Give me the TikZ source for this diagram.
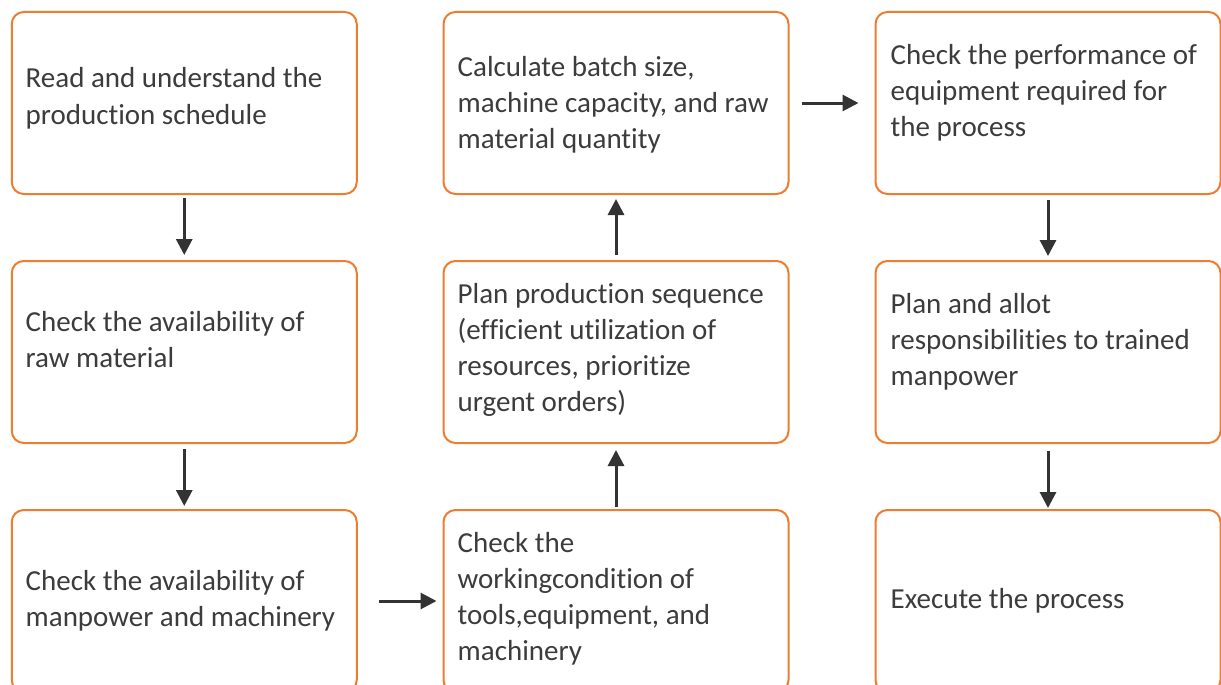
\documentclass[tikz,border=0pt]{standalone}
\usepackage{fontspec}
\setmainfont{Carlito}[Ligatures=NoCommon]
\usetikzlibrary{arrows.meta}
\definecolor{boxorange}{HTML}{ED7D31}
\definecolor{txtgray}{HTML}{3C3C3C}
\definecolor{arrgray}{HTML}{333333}
\begin{document}
\begin{tikzpicture}[x=1pt,y=-1pt,
  stepbox/.style={draw=boxorange, line width=2pt, rounded corners=12pt, minimum width=345pt, minimum height=182pt, inner sep=0pt, fill=white},
  steptext/.style={anchor=base west, inner sep=0pt, align=left, text=txtgray, font=\fontsize{29}{36}\selectfont},
  arr/.style={draw=arrgray, line width=3pt, -{Triangle[length=16pt,width=16pt]}}]
\useasboundingbox (0,0) rectangle (1221,685);
% boxes
\node[stepbox] (A1) at (184.25,103) {};
\node[stepbox] (A2) at (184.25,352) {};
\node[stepbox] (A3) at (184.25,601) {};
\node[stepbox] (B1) at (616,103) {};
\node[stepbox] (B2) at (616,352) {};
\node[stepbox] (B3) at (616,601) {};
\node[stepbox] (C1) at (1048,103) {};
\node[stepbox] (C2) at (1048,352) {};
\node[stepbox] (C3) at (1048,601) {};
% texts (anchored at the baseline of the last line)
\node[steptext] (tA1) at (25.5,124) {Read and understand the\\production schedule};
\node[steptext] (tA2) at (25.5,367) {Check the availability of\\raw material};
\node[steptext] (tA3) at (25.5,626) {Check the availability of\\manpower and machinery};
\node[steptext] (tB1) at (457.5,148) {Calculate batch size,\\machine capacity, and raw\\material quantity};
\node[steptext] (tB2) at (457.5,411) {Plan production sequence\\(efficient utilization of\\resources, prioritize\\urgent orders)};
\node[steptext] (tB3) at (457.5,660) {Check the\\workingcondition of\\tools,equipment, and\\machinery};
\node[steptext] (tC1) at (890.5,136) {Check the performance of\\equipment required for\\the process};
\node[steptext] (tC2) at (890.5,385) {Plan and allot\\responsibilities to trained\\manpower};
\node[steptext] (tC3) at (890.5,608) {Execute the process};
% connectors
\draw[arr, shorten <=3pt, shorten >=5pt] (A1.south) -- (A2.north);
\draw[arr, shorten <=5pt, shorten >=3pt] (A2.south) -- (A3.north);
\draw[arr, shorten <=21pt, shorten >=6pt] (A3.east) -- (B3.west);
\draw[arr, shorten <=2pt, shorten >=6pt] (B3.north) -- (B2.south);
\draw[arr, shorten <=5pt, shorten >=4pt] (B2.north) -- (B1.south);
\draw[arr, shorten <=12pt, shorten >=16pt] (B1.east) -- (C1.west);
\draw[arr, shorten <=5pt, shorten >=4pt] (C1.south) -- (C2.north);
\draw[arr, shorten <=7pt, shorten >=1pt] (C2.south) -- (C3.north);
\end{tikzpicture}
\end{document}
